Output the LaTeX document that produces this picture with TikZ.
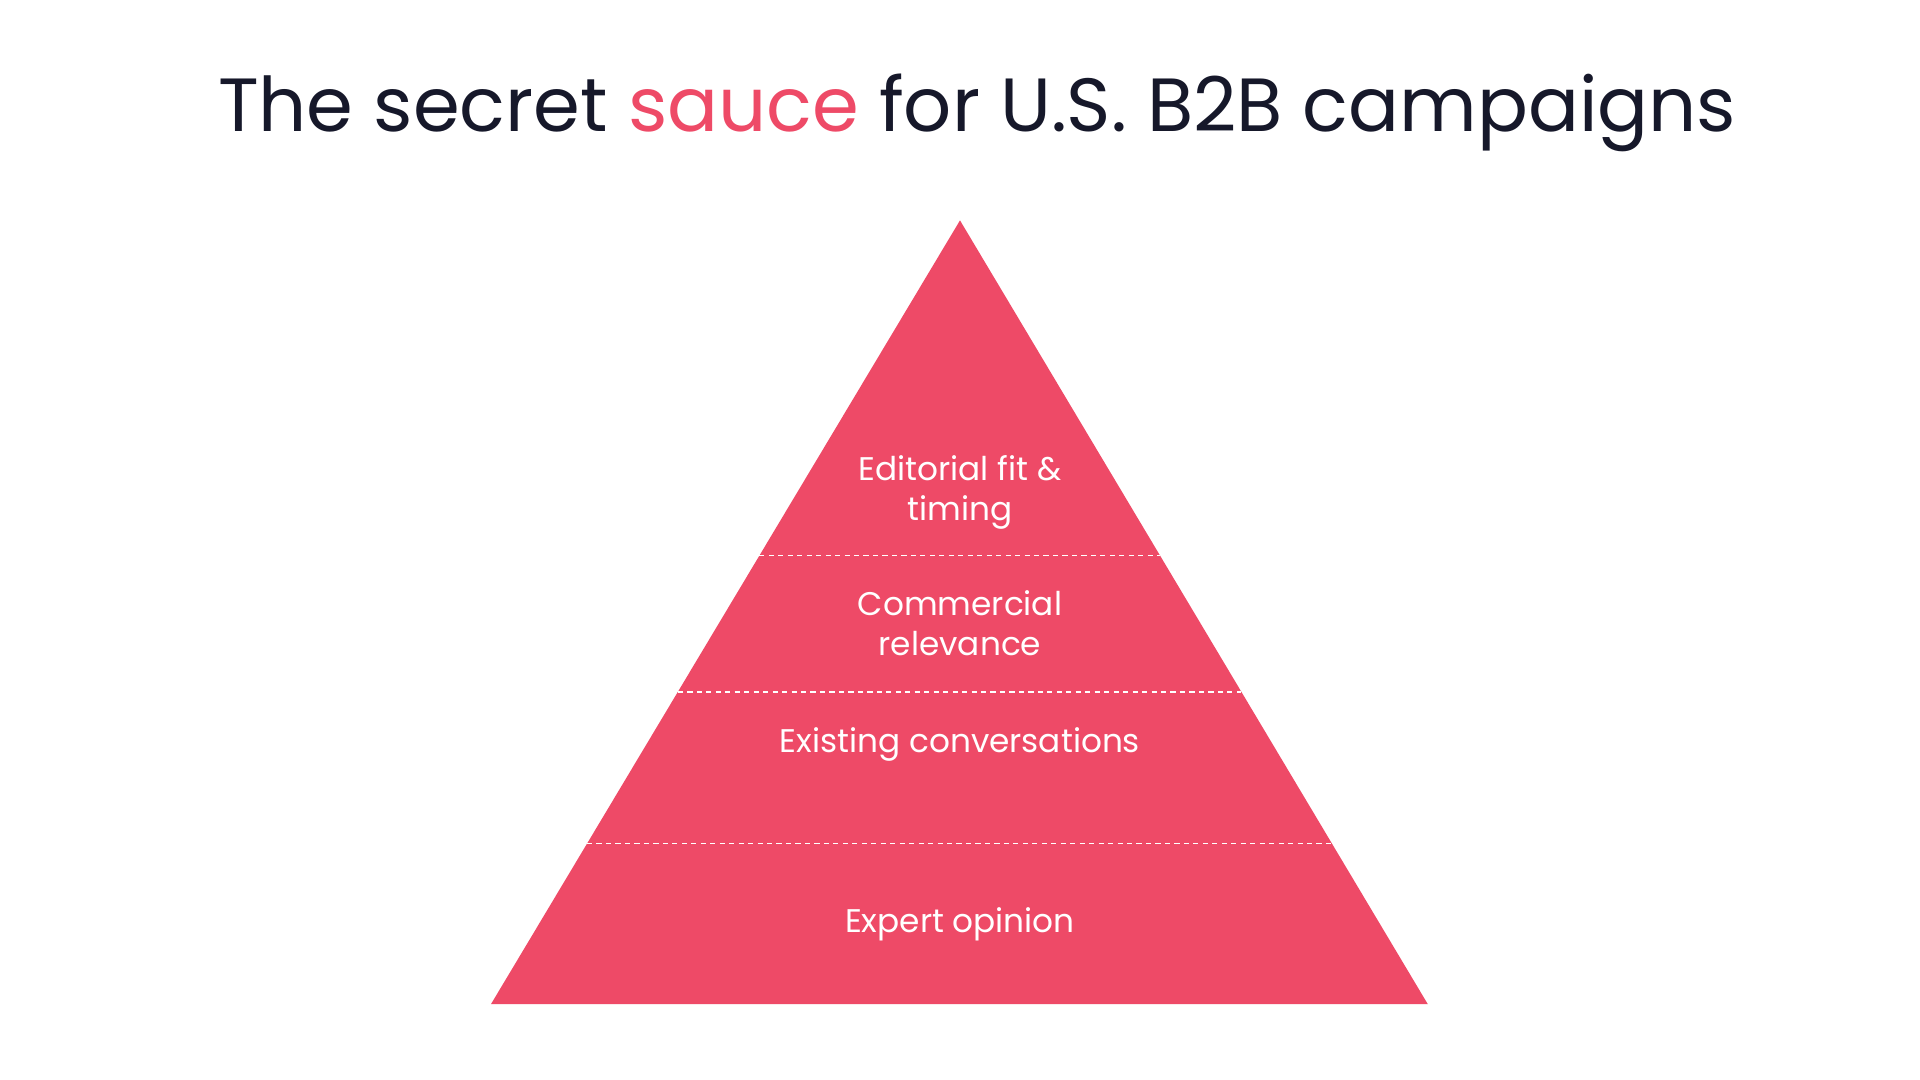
\documentclass[tikz,border=0pt]{standalone}
\usepackage{fontspec}
\setmainfont{Poppins}
\usetikzlibrary{calc}
\definecolor{sauce}{HTML}{EE4A67}
\definecolor{ink}{HTML}{16182A}
\tikzset{
	layer/.style={text=white, align=center, font=\fontsize{7.6}{9.2}\selectfont},
	divider/.style={white, dashed, line width=0.3pt, dash pattern=on 1.2pt off 1pt}
}
\begin{document}
\begin{tikzpicture}[x=0.01cm, y=-0.01cm]
	\useasboundingbox[fill=white] (0, 0) rectangle (1568, 882);
	% Title.
	\node[text=ink, font=\fontsize{17.5}{20}\selectfont] (title) at (798, 92)
		{The secret \textcolor{sauce}{sauce} for U.S. B2B campaigns};
	% Pyramid.
	\coordinate (apex) at (784, 180);
	\coordinate (bl) at (401, 820);
	\coordinate (br) at (1166, 820);
	\fill[sauce] (apex) -- (bl) -- (br) -- cycle;
	% Dividers.
	\foreach \t in {0.428, 0.6016, 0.7953}
		\draw[divider] ($(apex)!\t!(bl)$) -- ($(apex)!\t!(br)$);
	% Labels.
	\node[layer] (fit) at (784, 402) {Editorial fit \&\\timing};
	\node[layer] (commercial) at (784, 509) {Commercial\\relevance};
	\node[layer] (existing) at (784, 608) {Existing conversations};
	\node[layer] (expert) at (784, 755) {Expert opinion};
\end{tikzpicture}
\end{document}
